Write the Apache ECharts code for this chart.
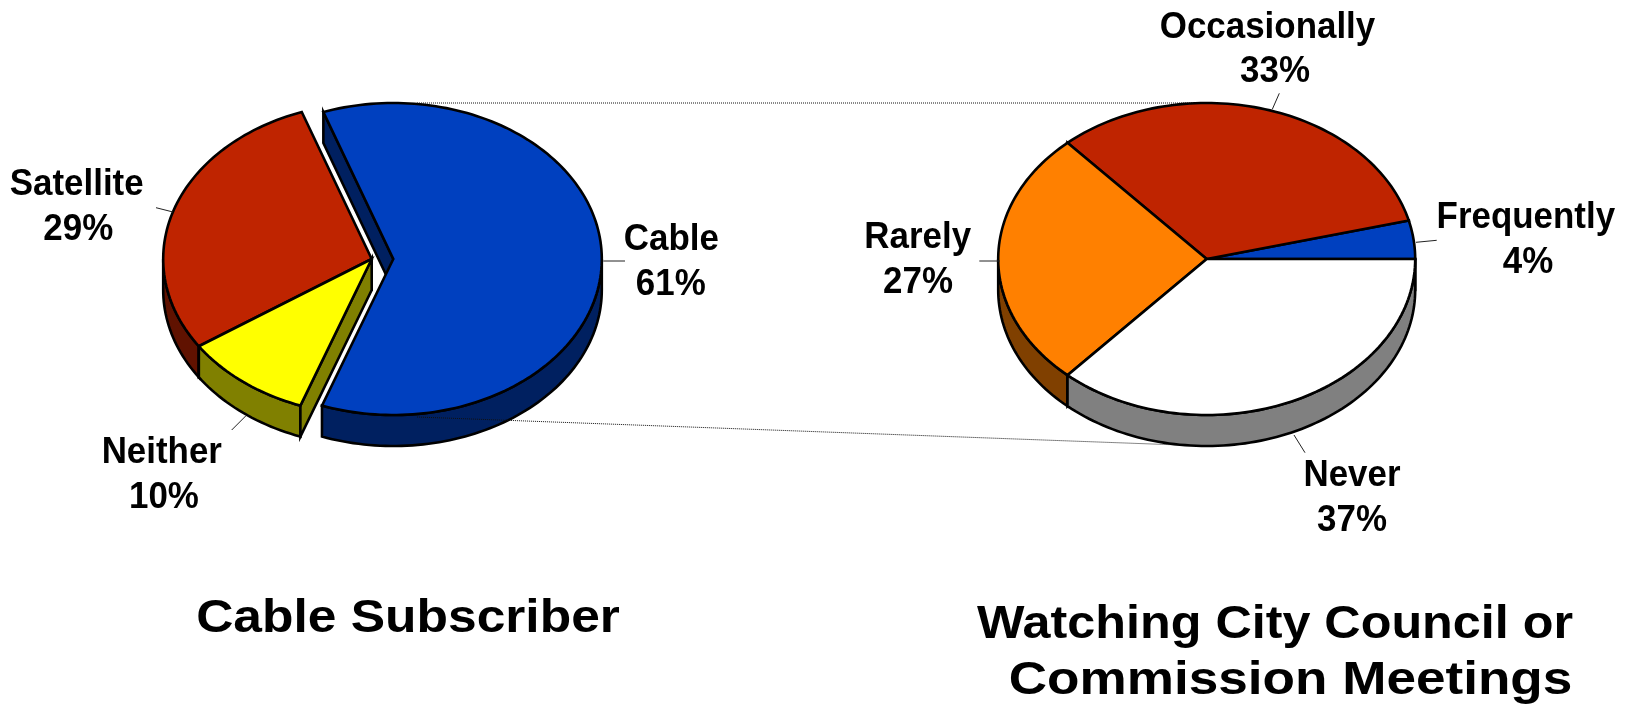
<!DOCTYPE html>
<html>
<head>
<meta charset="utf-8">
<title>Cable Subscriber / Watching City Council or Commission Meetings</title>
<script src="https://cdn.jsdelivr.net/npm/echarts@6/dist/echarts.min.js"></script>
<style>html,body{margin:0;padding:0;background:#fff}#chart{width:1637px;height:705px}</style>
</head>
<body>
<div id="chart"></div>
<script>
// ---- data ----
const cableNames = ['Cable', 'Satellite', 'Neither'];
const cableValues = [61, 29, 10];
const meetingNames = ['Frequently', 'Occasionally', 'Rarely', 'Never'];
const meetingValues = [4, 33, 27, 37];
const cableTitle = 'Cable Subscriber';
const meetingTitleLines = ['Watching City Council or', 'Commission Meetings'];

// ---- styles ----
const cableTop = ['#0040BF', '#BF2400', '#FFFF00'];
const cableSide = ['#002060', '#601200', '#808000'];
const meetingTop = ['#0040BF', '#BF2400', '#FF8000', '#FFFFFF'];
const meetingSide = ['#002060', '#601200', '#804000', '#808080'];
const FONT = '"Liberation Sans", Arial, sans-serif';

// ---- layout ----
const RX = 208.5, RY = 156, DEPTH = 31;
// labels: [name x, name y, percent x, percent y]
const cableLayout = {
  cx: 371.7, cy: 259, startAngle: -110,
  explode: [21.6, 0, 0],
  labels: [[671.3, 240, 670.8, 285], [76.7, 185.5, 78.3, 230.5], [161.8, 453, 163.9, 498]],
  leaders: [[[603.3, 261], [625, 261]], [[156, 207.7], [173, 212]], [[231.7, 430], [245.7, 416]]]
};
const meetingLayout = {
  cx: 1206.7, cy: 259, startAngle: 0,
  explode: [0, 0, 0, 0],
  labels: [[1525.8, 218.5, 1528, 263.5], [1267.5, 28, 1275, 72], [917.7, 238.5, 918, 283.5], [1352, 476, 1352, 521]],
  leaders: [[[1416, 242.3], [1436.7, 240.3]], [[1279.3, 93.3], [1272.3, 109.3]], [[979.3, 261], [1000, 261]], [[1294, 435], [1305, 452.7]]]
};

function ellipsePoint(cx, cy, deg, dy) {
  const t = deg * Math.PI / 180;
  return [cx + RX * Math.cos(t), cy - RY * Math.sin(t) + (dy || 0)];
}
function arcPoints(cx, cy, a, b, dy) {
  const pts = [], n = Math.max(2, Math.ceil(Math.abs(b - a) / 1.5));
  for (let i = 0; i <= n; i++) pts.push(ellipsePoint(cx, cy, a + (b - a) * i / n, dy));
  return pts;
}
function poly(points, fill, z2) {
  return { type: 'polygon', z2: z2, shape: { points: points },
    style: { fill: fill, stroke: '#000', lineWidth: 2.6, lineJoin: 'miter' } };
}
function labelText(text, x, y) {
  return { type: 'text', z2: 4, x: x, y: y, scaleX: 0.97,
    style: { text: text, fill: '#000', font: 'bold 36px ' + FONT, align: 'center', verticalAlign: 'middle' } };
}

function pieRender(values, names, tops, sides, layout) {
  const total = values.reduce((s, v) => s + v, 0);
  return function (params, api) {
    const i = params.dataIndex;
    const before = values.slice(0, i).reduce((s, v) => s + v, 0);
    const a = layout.startAngle + before / total * 360;
    const b = a + api.value(0) / total * 360;
    const cx = layout.cx + layout.explode[i], cy = layout.cy;
    const children = [];

    // outer rim: only the lower half of the ellipse faces the viewer
    for (let k = -1; k <= 1; k++) {
      const lo = Math.max(a, 180 + k * 360), hi = Math.min(b, 360 + k * 360);
      if (hi > lo) {
        const upper = arcPoints(cx, cy, lo, hi, 0);
        const lower = arcPoints(cx, cy, hi, lo, DEPTH);
        children.push(poly(upper.concat(lower), sides[i], 1));
      }
    }
    // cut faces of the slice, hidden by the neighbouring tops where they touch
    [[a, 1], [b, -1]].forEach(function (e) {
      const visible = e[1] * Math.cos(e[0] * Math.PI / 180) > 0;
      if (visible) {
        const p = ellipsePoint(cx, cy, e[0], 0), q = ellipsePoint(cx, cy, e[0], DEPTH);
        children.push(poly([[cx, cy], p, q, [cx, cy + DEPTH]], sides[i], 1));
      }
    });
    // top face
    children.push(poly([[cx, cy]].concat(arcPoints(cx, cy, a, b, 0)), tops[i], 2));
    // leader line
    const l = layout.leaders[i];
    children.push({ type: 'line', z2: 3,
      shape: { x1: l[0][0], y1: l[0][1], x2: l[1][0], y2: l[1][1] },
      style: { stroke: '#222', lineWidth: 1 } });
    // label
    const pos = layout.labels[i];
    children.push(labelText(names[i], pos[0], pos[1]));
    children.push(labelText(api.value(0) + '%', pos[2], pos[3]));
    return { type: 'group', children: children };
  };
}

function pieSeries(values, names, tops, sides, layout, z) {
  return {
    type: 'custom', coordinateSystem: 'none', z: z, silent: true, animation: false, clip: false,
    data: values.map(v => [v]),
    renderItem: pieRender(values, names, tops, sides, layout)
  };
}

const connectors = ['top', 'bottom'];
const connectorSeries = {
  type: 'custom', coordinateSystem: 'none', z: 2, silent: true, animation: false,
  data: connectors.map((c, i) => [i]),
  renderItem: function (params) {
    const topEdge = meetingLayout.cy - RY;
    const ends = params.dataIndex === 0
      ? [417, topEdge, meetingLayout.cx, topEdge]
      : [417, meetingLayout.cy + RY + 2, meetingLayout.cx, meetingLayout.cy + RY + DEPTH];
    return { type: 'line', shape: { x1: ends[0], y1: ends[1], x2: ends[2], y2: ends[3] },
      style: { stroke: '#111', lineWidth: 1, lineDash: [1, 1] } };
  }
};

function titleText(text, x, y, sx) {
  return { type: 'text', x: x, y: y, scaleX: sx, silent: true,
    style: { text: text, fill: '#000', font: 'bold 47px ' + FONT, align: 'center', verticalAlign: 'middle' } };
}

const chart = echarts.init(document.getElementById('chart'), null, { renderer: 'canvas' });
chart.setOption({
  backgroundColor: '#fff',
  animation: false,
  graphic: { elements: [
    titleText(cableTitle, 408, 619, 1.096),
    titleText(meetingTitleLines[0], 1275, 625, 1.07),
    titleText(meetingTitleLines[1], 1290.5, 681, 1.13)
  ] },
  series: [
    pieSeries(cableValues, cableNames, cableTop, cableSide, cableLayout, 1),
    connectorSeries,
    pieSeries(meetingValues, meetingNames, meetingTop, meetingSide, meetingLayout, 3)
  ]
});
</script>
</body>
</html>
